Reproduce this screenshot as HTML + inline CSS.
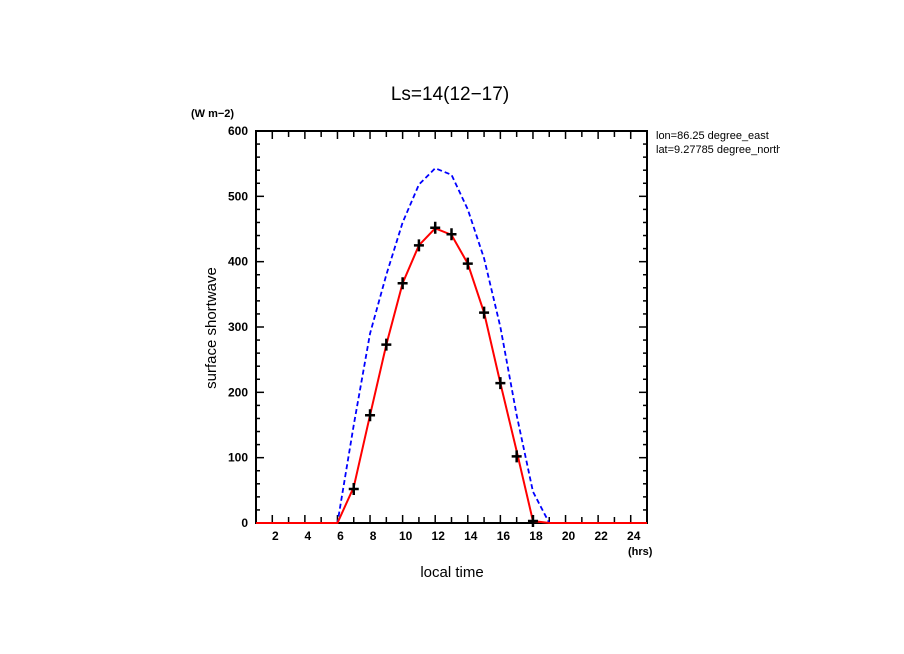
<!DOCTYPE html>
<html><head><meta charset="utf-8"><style>
body{margin:0;background:#fff}
svg{display:block;font-family:"Liberation Sans",sans-serif}
</style></head><body>
<svg id="c" width="904" height="654">
<text x="450" y="100" font-size="19" text-anchor="middle">Ls=14(12−17)</text>
<text x="191" y="117" font-size="11" font-weight="bold">(W m−2)</text>
<text x="656" y="139" font-size="11">lon=86.25 degree_east</text>
<text x="656" y="153" font-size="11">lat=9.27785 degree_north</text>
<rect x="780" y="128" width="80" height="30" fill="#fff"/>
<text x="0" y="0" font-size="15" text-anchor="middle" transform="translate(216,328) rotate(-90)">surface shortwave</text>
<text x="452" y="577" font-size="15" text-anchor="middle">local time</text>
<text x="628" y="555" font-size="11" font-weight="bold">(hrs)</text>
<g id="ax"></g><g id="marks"></g>
</svg>
<script>
const hours=[6,7,8,9,10,11,12,13,14,15,16,17,18,19];
const blueVals=[0,150,290,380,460,518,543,533,480,405,300,165,48,0];
const redVals=[0,55,165,273,367,425,451,441,397,322,214,110,3,0];
const markHours=[7,8,9,10,11,12,13,14,15,16,17,18];
const markVals=[52,165,273,367,425,452,442,397,322,214,102,3];
const yTicks=[0,100,200,300,400,500,600];
const xTicks=[2,4,6,8,10,12,14,16,18,20,22,24];
const X0=256,X1=647,Y0=523,Y1=131;
const xs=h=>X0+(h-1)*(X1-X0)/24;
const ys=v=>Y0-v*(Y0-Y1)/600;
const NS="http://www.w3.org/2000/svg";
const ax=document.getElementById('ax'),mk=document.getElementById('marks');
function el(t,a,p){const e=document.createElementNS(NS,t);for(const k in a)e.setAttribute(k,a[k]);p.appendChild(e);return e;}
const frame=el('rect',{x:X0,y:Y1,width:X1-X0,height:Y0-Y1,fill:'none',stroke:'#000','stroke-width':2},ax);


for(let v=0;v<=600;v+=20){const L=v%100===0?8:4;
 el('line',{x1:X0,x2:X0+L,y1:ys(v),y2:ys(v),stroke:'#000','stroke-width':1.5},ax);
 el('line',{x1:X1,x2:X1-L,y1:ys(v),y2:ys(v),stroke:'#000','stroke-width':1.5},ax);}
yTicks.forEach(v=>{const t=el('text',{x:X0-8,y:ys(v)+4,'font-size':12,'font-weight':'bold','text-anchor':'end'},ax);t.textContent=v;
 
 });
for(let h=1;h<=25;h++){const L=h%2===0?8:6;
 el('line',{x1:xs(h),x2:xs(h),y1:Y0,y2:Y0-L,stroke:'#000','stroke-width':1.5},ax);
 el('line',{x1:xs(h),x2:xs(h),y1:Y1,y2:Y1+L,stroke:'#000','stroke-width':1.5},ax);}
xTicks.forEach(h=>{const t=el('text',{x:xs(h)+3,y:Y0+17,'font-size':12,'font-weight':'bold','text-anchor':'middle'},ax);t.textContent=h;
 
 });
const bpts=[[1,0]].concat(hours.map((h,i)=>[h,blueVals[i]])).concat([[25,0]]);
const blue=el('polyline',{points:bpts.map(p=>xs(p[0])+','+ys(p[1])).join(' '),fill:'none',stroke:'#0000ff','stroke-width':1.8,'stroke-dasharray':'5,3'},mk);


const rpts=[[1,0]].concat(hours.map((h,i)=>[h,redVals[i]])).concat([[25,0]]);
const red=el('polyline',{points:rpts.map(p=>xs(p[0])+','+ys(p[1])).join(' '),fill:'none',stroke:'#ff0000','stroke-width':2},mk);


markHours.forEach((h,i)=>{const x=xs(h),y=ys(markVals[i]);
 const g=el('path',{d:`M${x-5},${y}H${x+5}M${x},${y-6}V${y+6}`,stroke:'#000','stroke-width':2.5},mk);
 
 });
</script>
</body></html>
